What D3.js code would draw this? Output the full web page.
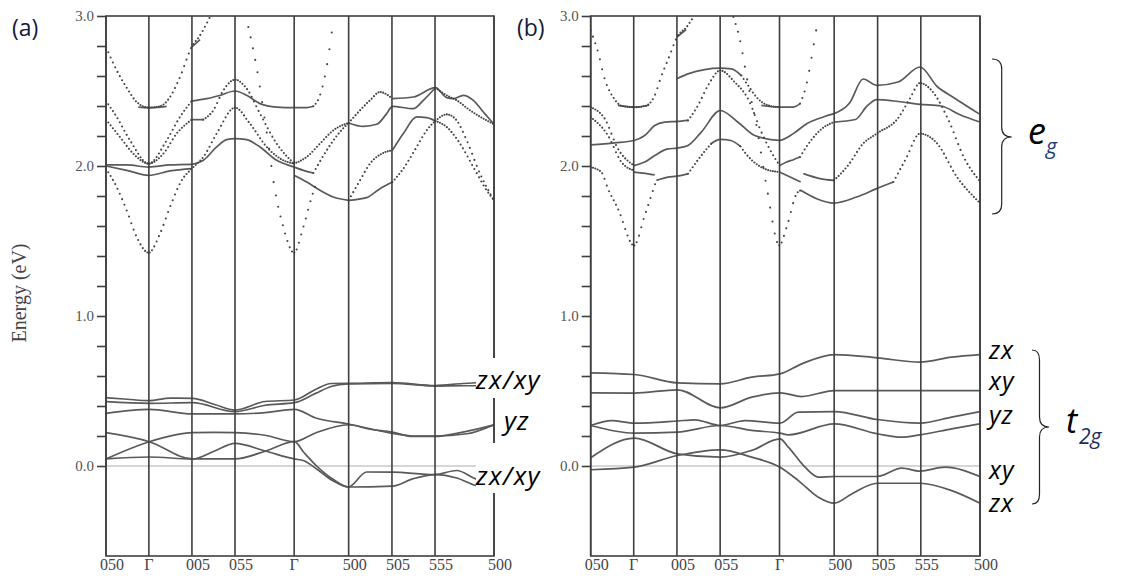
<!DOCTYPE html>
<html lang="en">
<head>
<meta charset="utf-8">
<title></title>
<script src="https://d3js.org/d3.v7.min.js"></script>
<style type="text/css">
  body { margin: 0; background: #fff; }
</style>
</head>
<body>
<svg width="1135" height="586" id="svg1"></svg>
<script>

  // k-path: positions of the high-symmetry points (fraction of the path) and their labels
  var kTicks  = [0, 0.1105, 0.2215, 0.3325, 0.485, 0.6254, 0.737, 0.848, 1];
  var kLabels = ["050", "\u0393", "005", "055", "\u0393", "500", "505", "555", "500"];
  var energyTicks = [0, 0.2, 0.4, 0.6, 0.8, 1.0, 1.2, 1.4, 1.6, 1.8, 2.0, 2.2, 2.4, 2.6, 2.8, 3.0];
  var energyLabels = [0, 1, 2, 3];

  // ---- panel (a): bands drawn as solid lines, [k, E(eV)]
  var aSolid = [
    [[0,2.007],[0.0533,2.007],[0.11,1.993],[0.165,2.007],[0.2208,2.011]],
    [[0,2.0],[0.0533,1.971],[0.11,1.938],[0.165,1.967],[0.2208,1.982]],
    [[0.0833,2.393],[0.11,2.389],[0.1392,2.393],[0.1564,2.398]],
    [[0.2208,2.793],[0.2423,2.842]],
    [[0.2208,2.433],[0.2595,2.449],[0.2938,2.471],[0.3325,2.5],[0.3625,2.471],[0.3969,2.416],[0.4399,2.393],[0.4845,2.389],[0.5172,2.389],[0.5344,2.398]],
    [[0.2208,2.309],[0.2509,2.309]],
    [[0.2208,2.011],[0.2509,2.038],[0.2852,2.127],[0.311,2.176],[0.3325,2.182],[0.3625,2.176],[0.3969,2.127],[0.4399,2.038],[0.4845,1.993],[0.5086,1.971],[0.5344,1.953]],
    [[0.4845,1.938],[0.5172,1.893],[0.5515,1.838],[0.5859,1.793],[0.6254,1.771]],
    [[0.6254,2.287],[0.6632,2.264],[0.6976,2.278],[0.7234,2.349],[0.738,2.398],[0.7921,2.382],[0.8179,2.438],[0.8488,2.522]],
    [[0.738,2.449],[0.7921,2.46],[0.8488,2.522],[0.878,2.456],[0.8952,2.449],[0.921,2.471],[0.9467,2.438],[0.9725,2.36],[1,2.278]],
    [[0.738,2.104],[0.7663,2.216],[0.8007,2.327],[0.8265,2.322],[0.8488,2.3]],
    [[0.6254,1.771],[0.6718,1.789],[0.7062,1.849],[0.738,1.893]],
    // t2g bands
    [[0,0.456],[0.055,0.445],[0.1115,0.436],[0.165,0.452],[0.2225,0.451],[0.28,0.41],[0.3325,0.373],[0.41,0.43],[0.4854,0.44],[0.54,0.51],[0.58,0.55],[0.6246,0.551],[0.738,0.556],[0.8479,0.536],[0.92,0.55],[1,0.56]],
    [[0,0.429],[0.1115,0.418],[0.2225,0.422],[0.3325,0.362],[0.41,0.405],[0.4854,0.422],[0.54,0.484],[0.58,0.53],[0.6246,0.547],[0.738,0.551],[0.8479,0.533],[0.92,0.535],[1,0.535]],
    [[0,0.351],[0.1115,0.378],[0.2225,0.347],[0.3325,0.347],[0.41,0.356],[0.4854,0.378],[0.543,0.318],[0.6246,0.28],[0.738,0.218],[0.79,0.2],[0.8479,0.2],[0.93,0.215],[1,0.275]],
    [[0,0.047],[0.1115,0.162],[0.2225,0.222],[0.2775,0.224],[0.3325,0.222],[0.41,0.205],[0.4854,0.162],[0.54,0.22],[0.6246,0.275],[0.68,0.245],[0.738,0.226],[0.79,0.197],[0.8479,0.197],[0.92,0.226],[1,0.275]],
    [[0,0.222],[0.1115,0.162],[0.2225,0.047],[0.28,0.1],[0.3325,0.151],[0.41,0.1],[0.4854,0.047],[0.51,0.035],[0.543,-0.02],[0.586,-0.1],[0.6246,-0.14],[0.738,-0.134],[0.79,-0.086],[0.8479,-0.057],[0.904,-0.08],[0.953,-0.13],[1,-0.15]],
    [[0,0.047],[0.1115,0.06],[0.2225,0.047],[0.3325,0.047],[0.414,0.102],[0.4854,0.162],[0.51,0.09],[0.543,0.0],[0.586,-0.09],[0.6246,-0.14],[0.672,-0.04],[0.738,-0.041],[0.8479,-0.057],[0.904,-0.03],[0.953,-0.086],[1,-0.11]]
  ];

  // ---- panel (a): bands drawn as dotted lines
  var aDotted = [
    [[0,2.793],[0.0275,2.638],[0.0533,2.522],[0.079,2.427],[0.11,2.389],[0.1392,2.398],[0.165,2.46],[0.1907,2.593],[0.2208,2.793],[0.2423,2.871],[0.268,2.993]],
    [[0,1.982],[0.0275,1.86],[0.0533,1.704],[0.079,1.527],[0.11,1.422],[0.1392,1.549],[0.165,1.727],[0.195,1.904],[0.2208,1.982],[0.2509,2.06],[0.2852,2.216],[0.3325,2.389],[0.3711,2.282],[0.4141,2.127],[0.457,2.038],[0.4845,2.016]],
    [[0,2.433],[0.0275,2.327],[0.0619,2.171],[0.11,2.016],[0.1564,2.171],[0.1907,2.327],[0.2208,2.433]],
    [[0,2.309],[0.0361,2.193],[0.0704,2.082],[0.11,2.016],[0.1478,2.082],[0.1821,2.216],[0.2208,2.309]],
    [[0.2509,2.309],[0.2766,2.371],[0.3024,2.504],[0.3325,2.576],[0.3625,2.516],[0.3969,2.349],[0.4399,2.149],[0.4845,2.016]],
    [[0.5344,2.398],[0.5515,2.471],[0.5687,2.66],[0.5859,2.971]],
    [[0.3668,2.927],[0.3797,2.771],[0.3926,2.593],[0.4055,2.371],[0.4184,2.149],[0.4313,1.904],[0.457,1.593],[0.4845,1.422],[0.5086,1.593],[0.5301,1.793],[0.5429,1.893]],
    [[0.4845,2.016],[0.5172,2.06],[0.5515,2.149],[0.5859,2.238],[0.6254,2.287]],
    [[0.5344,1.953],[0.5687,2.104],[0.6031,2.227],[0.6254,2.287]],
    [[0.6254,2.287],[0.6546,2.371],[0.6804,2.438],[0.7062,2.493],[0.738,2.449]],
    [[0.6254,1.771],[0.6546,1.904],[0.6804,2.016],[0.7148,2.087],[0.738,2.104]],
    [[0.8488,2.3],[0.878,2.344],[0.9038,2.304],[0.9296,2.171],[0.9639,1.949],[1,1.771]],
    [[0.738,1.893],[0.7663,1.982],[0.8007,2.127],[0.8265,2.238],[0.8488,2.3]],
    [[0.8488,2.3],[0.878,2.26],[0.9124,2.149],[0.9467,1.993],[0.9811,1.838],[1,1.771]],
    [[0.8488,2.522],[0.878,2.471],[0.9038,2.438],[0.9381,2.371],[0.9725,2.316],[1,2.278]]
  ];

  // ---- panel (b): solid bands
  var bSolid = [
    [[0.07,2.404],[0.1113,2.392],[0.15,2.405]],
    [[0.2217,2.86],[0.245,2.91]],
    [[0.1687,1.904],[0.1986,1.926],[0.2209,1.932],[0.25,1.948]],
    [[0.31,2.15],[0.333,2.177],[0.36,2.17],[0.385,2.13]],
    [[0.1113,1.959],[0.1473,1.948],[0.1644,1.941]],
    [[0.1113,2.003],[0.1387,2.026],[0.1644,2.07],[0.1986,2.114],[0.2209,2.119],[0.25,2.137],[0.2842,2.226],[0.333,2.37],[0.3784,2.292],[0.4212,2.203],[0.4846,2.171],[0.5205,2.216],[0.5548,2.282],[0.5976,2.327],[0.625,2.349]],
    [[0,2.141],[0.0616,2.154],[0.1113,2.17],[0.1387,2.203],[0.1644,2.27],[0.19,2.292],[0.2209,2.297],[0.25,2.304]],
    [[0.2209,2.581],[0.25,2.614],[0.2928,2.643],[0.333,2.652],[0.3613,2.648],[0.387,2.603]],
    [[0.4384,2.404],[0.4854,2.392],[0.5205,2.393],[0.5377,2.416]],
    [[0.4846,1.96],[0.5205,1.916],[0.5394,1.893]],
    [[0.4854,2.003],[0.5034,2.027],[0.5205,2.042],[0.5377,2.06]],
    [[0.5394,1.838],[0.5805,1.782],[0.625,1.753],[0.6832,1.793],[0.7346,1.849],[0.7774,1.893]],
    [[0.5462,1.949],[0.589,1.916],[0.625,1.904]],
    [[0.625,2.349],[0.665,2.42],[0.70,2.58],[0.7346,2.538],[0.79,2.56],[0.8459,2.66],[0.89,2.53],[0.93,2.46],[1,2.344]],
    [[0.625,2.293],[0.68,2.31],[0.71,2.40],[0.7346,2.442],[0.79,2.43],[0.8459,2.411],[0.9,2.40],[0.95,2.34],[1,2.293]],
    // t2g bands
    [[0,0.621],[0.1122,0.61],[0.2226,0.554],[0.333,0.548],[0.4135,0.592],[0.4863,0.614],[0.542,0.681],[0.6259,0.743],[0.7363,0.721],[0.8459,0.692],[0.9272,0.726],[1,0.743]],
    [[0,0.488],[0.1122,0.486],[0.2226,0.508],[0.333,0.388],[0.4135,0.459],[0.4863,0.488],[0.542,0.463],[0.6259,0.503],[0.7363,0.503],[0.8459,0.503],[1,0.503]],
    [[0,0.27],[0.0539,0.303],[0.1122,0.286],[0.2226,0.3],[0.268,0.308],[0.333,0.27],[0.3964,0.303],[0.4863,0.286],[0.5334,0.359],[0.6259,0.363],[0.7363,0.31],[0.8459,0.286],[0.9272,0.326],[1,0.363]],
    [[0,0.27],[0.1122,0.219],[0.2226,0.226],[0.333,0.27],[0.4135,0.237],[0.4863,0.219],[0.5077,0.208],[0.6259,0.281],[0.7363,0.215],[0.7988,0.192],[0.8459,0.208],[0.9272,0.248],[1,0.281]],
    [[0,0.055],[0.1122,0.186],[0.2226,0.081],[0.333,0.059],[0.4135,0.104],[0.4863,0.181],[0.5077,0.126],[0.5505,-0.008],[0.5848,-0.074],[0.6259,-0.07],[0.7363,-0.07],[0.7988,-0.014],[0.8459,-0.034],[0.9101,-0.008],[1,-0.07]],
    [[0,-0.025],[0.1122,-0.008],[0.2226,0.07],[0.333,0.108],[0.4135,0.059],[0.4863,-0.008],[0.5334,-0.097],[0.5848,-0.208],[0.6259,-0.248],[0.6704,-0.186],[0.7363,-0.115],[0.8459,-0.115],[0.9272,-0.164],[1,-0.248]]
  ];

  // ---- panel (b): dotted bands
  var bDotted = [
    [[0,2.904],[0.02,2.749],[0.036,2.58],[0.06,2.45],[0.08,2.40],[0.1113,2.392],[0.14,2.40],[0.1644,2.47],[0.1815,2.6],[0.2029,2.737],[0.2217,2.86],[0.2466,2.927],[0.2637,2.993]],
    [[0,1.992],[0.0274,1.959],[0.0445,1.848],[0.0702,1.714],[0.1113,1.47],[0.1387,1.67],[0.1558,1.804],[0.1687,1.904]],
    [[0.25,1.948],[0.2842,2.07],[0.31,2.15]],
    [[0.385,2.13],[0.3955,2.092],[0.4469,1.981],[0.4846,1.96]],
    [[0,2.392],[0.036,2.315],[0.0702,2.114],[0.1113,2.003]],
    [[0,2.326],[0.0445,2.203],[0.0788,2.026],[0.1113,1.97]],
    [[0.25,2.304],[0.2757,2.404],[0.3014,2.537],[0.333,2.637],[0.3699,2.559],[0.4041,2.448],[0.4384,2.226],[0.464,2.092],[0.4854,2.003]],
    [[0.387,2.603],[0.4041,2.537],[0.4298,2.448],[0.4555,2.404],[0.4854,2.392]],
    [[0.5377,2.416],[0.5548,2.549],[0.5676,2.727],[0.5805,2.927]],
    [[0.3664,2.993],[0.3836,2.838],[0.4007,2.593],[0.4264,2.26],[0.452,1.86],[0.4846,1.471],[0.5034,1.593],[0.5291,1.816],[0.5394,1.838]],
    [[0.5377,2.06],[0.56,2.15],[0.59,2.24],[0.625,2.293]],
    [[0.625,1.904],[0.66,2.0],[0.70,2.15],[0.7346,2.216],[0.79,2.32],[0.82,2.45],[0.8459,2.553],[0.88,2.49],[0.92,2.3],[0.96,2.05],[1,1.898]],
    [[0.7774,1.893],[0.81,2.05],[0.8459,2.216],[0.89,2.15],[0.94,1.93],[1,1.753]]
  ];

  var svg = d3.select("#svg1");
  var plotTop = 16, plotBottom = 556;
  var dotStep = 2.3;   // dots sit at equal k steps, like the sampled points of the original
  var yScale = d3.scaleLinear().domain([-0.6, 3.0]).range([plotBottom, plotTop]);

  // points of a drawn path at equal steps in x
  var sampleX = function(node, step) {
    var L = node.getTotalLength(), out = [], prev = node.getPointAtLength(0), next = prev.x;
    for (var s = 0; s <= L + 0.25; s += 0.25) {
      var p = node.getPointAtLength(Math.min(s, L));
      while (p.x >= next) {
        var t = p.x === prev.x ? 0 : (next - prev.x) / (p.x - prev.x);
        out.push([next, prev.y + t * (p.y - prev.y)]);
        next += step;
      }
      prev = p;
    }
    return out;
  };

  var drawPanel = function(id, left, right, solid, dotted, zeroEnd) {
    var xScale = d3.scaleLinear().domain([0, 1]).range([left, right]);
    var g = svg.append("g");

    g.append("clipPath").attr("id", "clip" + id)
      .append("rect").attr("x", left).attr("y", plotTop)
      .attr("width", right - left).attr("height", plotBottom - plotTop);

    // Fermi level
    g.append("line")
      .attr("x1", left).attr("x2", zeroEnd)
      .attr("y1", yScale(0)).attr("y2", yScale(0))
      .attr("stroke", "#c9c9c9").attr("stroke-width", 1.6);

    var line = d3.line()
      .x(function(d) { return xScale(d[0]); })
      .y(function(d) { return yScale(d[1]); })
      .curve(d3.curveMonotoneX);

    var bands = g.append("g").attr("clip-path", "url(#clip" + id + ")");
    bands.selectAll(".solid").data(solid).enter().append("path")
      .attr("class", "solid")
      .attr("d", line)
      .attr("fill", "none").attr("stroke", "#5a5a5a").attr("stroke-width", 1.7);

    var guides = bands.selectAll(".guide").data(dotted).enter().append("path")
      .attr("class", "guide").attr("d", line).attr("fill", "none").attr("stroke", "none");
    guides.each(function() {
      var pts = sampleX(this, dotStep);
      bands.append("g").selectAll("circle").data(pts).enter().append("circle")
        .attr("cx", function(d) { return d[0]; })
        .attr("cy", function(d) { return d[1]; })
        .attr("r", 1.05).attr("fill", "#444");
    });

    // high-symmetry lines
    g.selectAll(".sym").data(kTicks).enter().append("line")
      .attr("x1", function(d) { return xScale(d); })
      .attr("x2", function(d) { return xScale(d); })
      .attr("y1", plotTop).attr("y2", plotBottom)
      .attr("stroke", "#3f3f3f").attr("stroke-width", 1.6);

    g.append("rect")
      .attr("x", left).attr("y", plotTop)
      .attr("width", right - left).attr("height", plotBottom - plotTop)
      .attr("fill", "none").attr("stroke", "#3f3f3f").attr("stroke-width", 1.6);

    // energy axis
    var yAxis = d3.axisLeft(yScale).tickValues(energyTicks).tickSize(9).tickPadding(3)
      .tickFormat(function(d) {
        return energyLabels.indexOf(Math.round(d * 10) / 10) >= 0 ? d3.format(".1f")(d) : "";
      });
    var ya = g.append("g").attr("transform", `translate(${left}, 0)`).call(yAxis);
    ya.select(".domain").remove();
    ya.selectAll("line").attr("stroke", "#3f3f3f").attr("stroke-width", 1.6);
    ya.selectAll("text").attr("font-family", "Liberation Serif").attr("font-size", 15).attr("fill", "#555");

    // k-path labels
    g.selectAll(".klabel").data(kTicks).enter().append("text")
      .attr("x", function(d, i) { return xScale(d) + (kLabels[i] === "\u0393" ? 0 : 6); })
      .attr("y", 570)
      .attr("text-anchor", "middle")
      .attr("font-family", "Liberation Serif").attr("font-size", 16).attr("fill", "#444")
      .text(function(d, i) { return kLabels[i]; });
  };

  drawPanel("a", 106, 494, aSolid, aDotted, 494);
  drawPanel("b", 590.7, 980, bSolid, bDotted, 981);

  svg.append("text")
    .attr("transform", "translate(26, 293) rotate(-90)")
    .attr("text-anchor", "middle")
    .attr("font-family", "Liberation Serif").attr("font-size", 20).attr("fill", "#444")
    .text("Energy (eV)");

  svg.append("text").attr("x", 12).attr("y", 36)
    .attr("font-family", "Open Sans").attr("font-size", 23).attr("fill", "#141a3c").text("(a)");
  svg.append("text").attr("x", 517).attr("y", 36)
    .attr("font-family", "Open Sans").attr("font-size", 23).attr("fill", "#141a3c").text("(b)");

  // orbital labels, panel (a) (pasted over the frame on white)
  var italic = function(x, y, size, txt, color) {
    return svg.append("text").attr("x", x).attr("y", y)
      .attr("font-family", "Open Sans").attr("font-style", "italic")
      .attr("font-size", size).attr("fill", color || "#000").text(txt);
  };
  svg.append("rect").attr("x", 476).attr("y", 358).attr("width", 74).attr("height", 40).attr("fill", "#fff");
  svg.append("rect").attr("x", 476).attr("y", 443).attr("width", 74).attr("height", 50).attr("fill", "#fff");
  italic(476, 389, 26, "zx/xy").attr("letter-spacing", 1.5);
  italic(504, 430, 26, "yz").attr("letter-spacing", 1);
  italic(476, 485, 26, "zx/xy").attr("letter-spacing", 1.5);

  // orbital labels, panel (b)
  var bLabels = ["zx", "xy", "yz", "xy", "zx"];
  var bLabelY = [359, 390, 424, 479, 512];
  bLabels.forEach(function(t, i) { italic(989, bLabelY[i], 25, t).attr("letter-spacing", 1); });

  // braces
  var brace = function(x0, x1, x2, y0, y1, ym) {
    var r = 10;
    var p = `M${x0},${y0} Q${x1},${y0} ${x1},${y0 + r} L${x1},${ym - r} Q${x1},${ym} ${x2},${ym}`
          + ` Q${x1},${ym} ${x1},${ym + r} L${x1},${y1 - r} Q${x1},${y1} ${x0},${y1}`;
    svg.append("path").attr("d", p).attr("fill", "none").attr("stroke", "#222").attr("stroke-width", 1.2);
  };
  brace(992, 1001.7, 1011.7, 59, 214, 137);
  brace(1032, 1039.5, 1049, 350, 504, 427);

  italic(1028, 144, 36, "e");
  italic(1046, 154, 21, "g", "#1c3a78");
  italic(1066, 433, 34, "t");
  italic(1079, 444, 21, "2g", "#1c2e5c");

</script>
</body>
</html>
